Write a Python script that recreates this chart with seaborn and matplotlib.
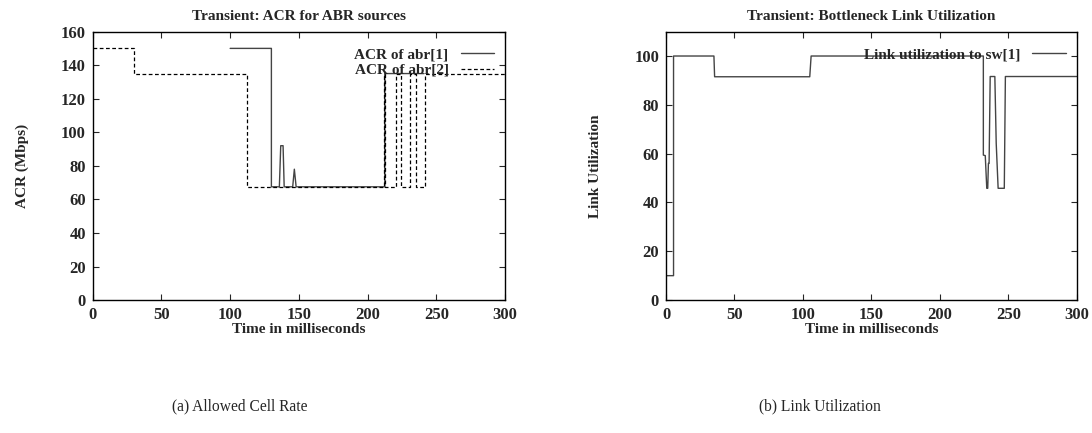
import matplotlib
matplotlib.use('Agg')
import matplotlib.pyplot as plt
import seaborn as sns
import pandas as pd

# (a) ACR for ABR sources
abr1_t = [100, 130, 130, 135.8, 136.8, 138.5, 139.3, 145.5, 146.7, 148, 212.5, 212.5, 241]
abr1_v = [150, 150, 67.5, 67.5, 92, 92, 67.5, 67.5, 78, 67.5, 67.5, 135, 135]
abr2_t = [0, 30, 30, 112, 112, 212, 212, 213, 213, 220.7, 220.7, 224.1, 224.1,
          230.9, 230.9, 235.1, 235.1, 241.8, 241.8, 300]
abr2_v = [150, 150, 135, 135, 67.5, 67.5, 135, 135, 67.5, 67.5, 135, 135, 67.5,
          67.5, 135, 135, 67.5, 67.5, 135, 135]

# (b) bottleneck link utilization
util_t = [0, 5.5, 5.5, 35, 35.5, 105, 106, 231.8, 231.8, 233.2, 234.3, 235.0, 235.5,
          236.0, 236.8, 240.2, 241.2, 242.6, 247.1, 247.9, 300]
util_v = [10, 10, 100, 100, 91.5, 91.5, 100, 100, 59.4, 59.2, 45.8, 45.8, 56,
          56, 91.6, 91.6, 64.2, 45.8, 45.8, 91.6, 91.6]

sns.set_style('ticks')
plt.rcParams['font.family'] = ['Liberation Serif', 'DejaVu Serif']
plt.rcParams['font.weight'] = 'bold'

fig = plt.figure(figsize=(10.92, 4.33), dpi=100)
ax1 = fig.add_axes([0.0849, 0.307, 0.3776, 0.620])
ax2 = fig.add_axes([0.6099, 0.307, 0.3761, 0.620])

sns.lineplot(x=abr1_t, y=abr1_v, ax=ax1, sort=False, estimator=None,
             color='#444444', lw=1.0, label='ACR of abr[1]')
sns.lineplot(x=abr2_t, y=abr2_v, ax=ax1, sort=False, estimator=None,
             color='black', lw=0.9, label='ACR of abr[2]')
ax1.lines[1].set_linestyle((0, (3, 2)))

sns.lineplot(x=util_t, y=util_v, ax=ax2, sort=False, estimator=None,
             color='#444444', lw=1.0, label='Link utilization to sw[1]')

def style(ax, ymax, title, ylabel):
    ax.set_xlim(0, 300)
    ax.set_ylim(0, ymax)
    ax.set_xticks(range(0, 301, 50))
    ax.set_yticks(range(0, ymax + 1, 20))
    ax.tick_params(direction='in', top=True, right=True, length=4, width=0.8,
                   labelsize=12, pad=5)
    for lab in ax.get_xticklabels() + ax.get_yticklabels():
        lab.set_fontweight('bold')
    for s in ax.spines.values():
        s.set_linewidth(1.0)
        s.set_color('black')
    ax.set_title(title, fontsize=11, fontweight='bold', pad=8)
    ax.set_xlabel('Time in milliseconds', fontsize=11, fontweight='bold', labelpad=0)
    ax.set_ylabel(ylabel, fontsize=11, fontweight='bold', labelpad=23)
    ax.legend(loc='upper right', bbox_to_anchor=(1.0, 0.98), frameon=False,
              markerfirst=False, prop={'weight': 'bold', 'size': 11},
              handlelength=2.2, borderaxespad=0.3, labelspacing=0.12,
              handletextpad=0.8)

style(ax1, 160, 'Transient: ACR for ABR sources', 'ACR (Mbps)')
style(ax2, 110, 'Transient: Bottleneck Link Utilization', 'Link Utilization')

fig.text(0.22, 0.053, '(a) Allowed Cell Rate', fontsize=11.2, fontweight='normal', ha='center')
fig.text(0.7509, 0.053, '(b) Link Utilization', fontsize=11.2, fontweight='normal', ha='center')

fig.savefig('out.png', dpi=100)
